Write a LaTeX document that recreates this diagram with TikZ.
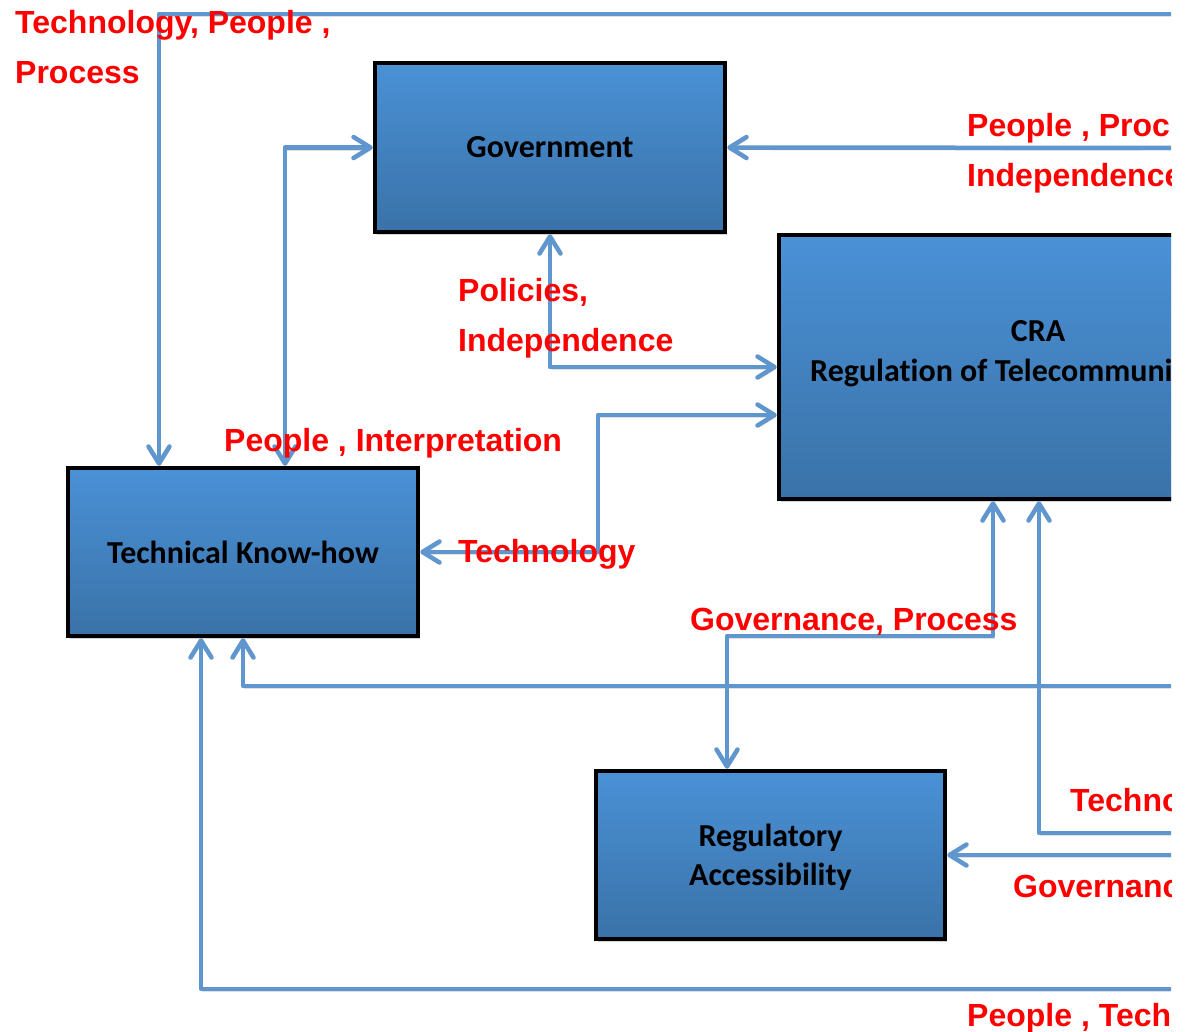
\documentclass[tikz,border=0pt]{standalone}
\usepackage{fontspec}
\setmainfont{Liberation Sans}
\newfontfamily\boxfont[Ligatures={NoCommon}]{Carlito}
\usetikzlibrary{arrows.meta, calc, shadows}
\definecolor{flowblue}{RGB}{95,150,205}
\definecolor{boxtop}{RGB}{74,145,214}
\definecolor{boxbottom}{RGB}{58,114,168}

\begin{document}
\begin{tikzpicture}[x=1pt, y=-1pt,
		unit/.style={draw=black, line width=4.5pt, rectangle, top color=boxtop, bottom color=boxbottom,
			font=\boxfont\bfseries\fontsize{32}{39}\selectfont, align=center, inner sep=0,
			drop shadow={opacity=0.35, shadow xshift=2pt, shadow yshift=-3pt}},
		boxtxt/.style={font=\boxfont\bfseries\fontsize{32}{39}\selectfont, inner sep=0},
		flow/.style={draw=flowblue, line width=4.5pt, line cap=round, line join=round,
			>={Straight Barb[length=17pt, width=21pt, round]},
			preaction={draw=black!35, opacity=0.35, transform canvas={shift={(1pt,-2.5pt)}}}},
		tag/.style={text=red, font=\bfseries\fontsize{32}{38}\selectfont, anchor=base west, inner sep=0}]
		\useasboundingbox (0,0) rectangle (1186,1031);
		\begin{scope}
		\clip (0,0) rectangle (1171,1031);
		
		% free ends beyond the right edge
		\coordinate (eTop) at (1190,14);
		\coordinate (eGov) at (1190,148);
		\coordinate (tk) at (598,415);
		\coordinate (gp) at (727,636);
		\coordinate (eTec) at (1190,833);
		\coordinate (eGovc) at (1190,855);
		\coordinate (ePT) at (1190,686);
		\coordinate (ePT2) at (1190,989);
		
		\node[unit, minimum width=350pt, minimum height=169pt] (gov) at (550,147.5) {Government};
		\node[unit, minimum width=520pt, minimum height=264pt] (cra) at (1039,367) {};
		\node[unit, minimum width=350pt, minimum height=168pt] (know) at (243,552) {Technical Know-how};
		\node[unit, minimum width=349pt, minimum height=168pt, text depth=0pt] (reg) at (770.5,855) {Regulatory\\Accessibility};
		\node[boxtxt, anchor=base] (craname) at (1038,341) {CRA};
		\node[boxtxt, anchor=base west] (craline) at (810,381) {Regulation of Telecommuni};
		
		\draw[flow, ->] (eTop) -| ($(know.north)+(-84,0)$);
		\draw[flow, <->] ($(know.north)+(42,0)$) |- (gov.west);
		\draw[flow, ->] (eGov) -- (gov.east);
		\draw[flow, <->] (gov.south) |- (cra.west);
		\draw[flow, <->] (know.east) -| (tk) -- (tk -| cra.west);
		\draw[flow, <->] ($(cra.south)+(-46,0)$) |- (gp) -- (gp |- reg.north);
		\draw[flow, ->] (eTec) -| (cra.south);
		\draw[flow, ->] (eGovc) -- (reg.east);
		\draw[flow, ->] (ePT) -| (know.south);
		\draw[flow, ->] (ePT2) -| ($(know.south)+(-42,0)$);
		
		\node[tag] (l1a) at (15,33) {Technology, People ,};
		\node[tag] (l1b) at (15,83) {Process};
		\node[tag] (l2a) at (967,136) {People , Proc};
		\node[tag] (l2b) at (967,186) {Independence};
		\node[tag] (l3a) at (458,301) {Policies,};
		\node[tag] (l3b) at (458,351) {Independence};
		\node[tag] (l4) at (224,451) {People , Interpretation};
		\node[tag] (l5) at (458,562) {Technology};
		\node[tag] (l6) at (690,630) {Governance, Process};
		\node[tag] (l7) at (1070,811) {Techno};
		\node[tag] (l8) at (1013,897) {Governanc};
		\node[tag] (l9) at (967,1026) {People , Tech};
		\end{scope}
\end{tikzpicture}
\end{document}
